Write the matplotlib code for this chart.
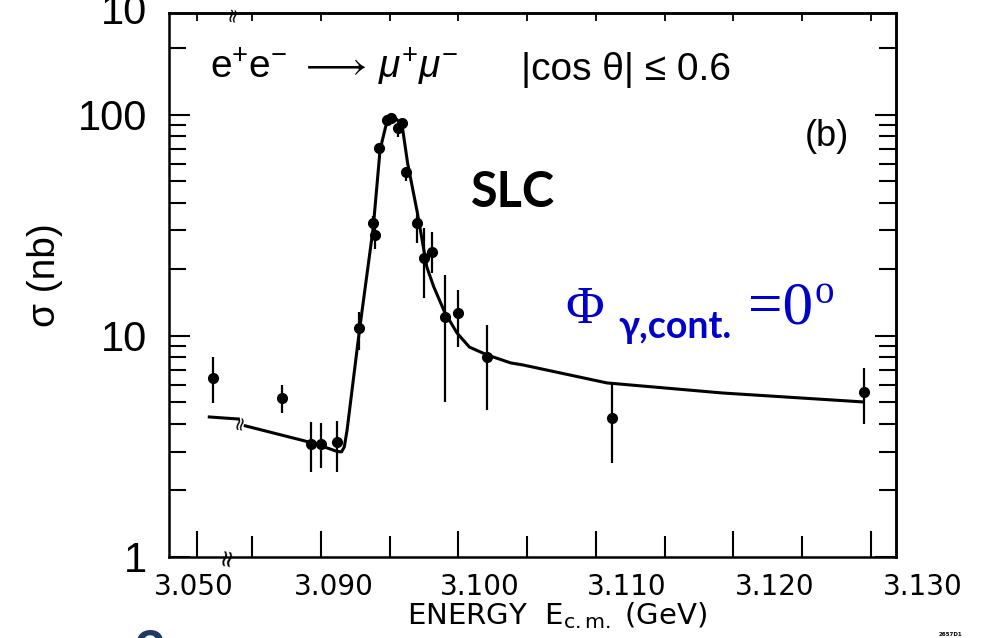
import matplotlib
matplotlib.use("Agg")
import matplotlib.pyplot as plt
from matplotlib import font_manager
from matplotlib.ticker import NullFormatter

installed = {f.name for f in font_manager.fontManager.ttflist}
NARROW = "Liberation Sans Narrow" if "Liberation Sans Narrow" in installed else "Liberation Sans"

plt.rcParams["mathtext.fontset"] = "custom"
plt.rcParams["mathtext.rm"] = NARROW
plt.rcParams["mathtext.it"] = NARROW + ":italic"
plt.rcParams["mathtext.bf"] = NARROW + ":bold"
plt.rcParams["mathtext.fallback"] = "stixsans"

# measured cross sections (GeV, nb)
energy = [3.0512, 3.0872, 3.0893, 3.0900, 3.0912, 3.0928, 3.0938, 3.0939,
          3.0942, 3.0948, 3.0951, 3.0956, 3.0959, 3.0962, 3.0970, 3.0975,
          3.0981, 3.0990, 3.1000, 3.1021, 3.1112, 3.1295]
sigma = [6.45, 5.24, 3.24, 3.24, 3.31, 10.9, 32.5, 28.7,
         70.9, 94.9, 96.9, 87.3, 92.0, 55.2, 32.5, 22.5,
         24.0, 12.2, 12.7, 8.0, 4.25, 5.58]
err_lo = [1.5, 0.74, 0.82, 0.71, 0.89, 2.26, 2.5, 4.0,
          4.0, 5.0, 5.0, 8.0, 5.0, 5.0, 6.2, 7.6,
          4.7, 7.2, 3.8, 3.4, 1.6, 1.6]
err_hi = [1.6, 0.76, 0.84, 0.80, 0.81, 1.9, 2.5, 2.0,
          4.0, 5.0, 5.0, 5.0, 5.0, 3.0, 2.8, 8.3,
          5.5, 6.7, 3.4, 3.2, 1.9, 1.6]

# fitted curve: short piece left of the axis break, then the main piece
fit_lo_e = [3.0509, 3.0530]
fit_lo_s = [4.30, 4.21]
fit_e = [3.0845, 3.0894, 3.0912, 3.0915, 3.0917, 3.0919, 3.0928, 3.0938,
         3.0943, 3.0947, 3.0950, 3.0954, 3.0959, 3.0963, 3.0970, 3.0977,
         3.0982, 3.0990, 3.0999, 3.1008, 3.1021, 3.1038, 3.1047, 3.1108,
         3.1192, 3.1294]
fit_s = [3.92, 3.28, 3.00, 2.99, 3.15, 3.75, 10.6, 30.8,
         69.5, 88.2, 98.0, 96.9, 90.0, 60.6, 36.4, 20.5,
         16.7, 12.8, 10.3, 8.9, 8.2, 7.55, 7.39, 6.13,
         5.52, 5.03]

x_major = [3.050, 3.090, 3.100, 3.110, 3.120, 3.130]
x_minor = [3.085, 3.095, 3.105, 3.115, 3.125]
x_labels = ["3.050", "3.090", "3.100", "3.110", "3.120", "3.130"]
y_major = [1, 10, 100]
y_labels = ["1", "10", "100"]
y_minor = [2, 3, 4, 5, 6, 7, 8, 9, 20, 30, 40, 50, 60, 70, 80, 90, 200]

BREAK = 3.07     # energies below this sit left of the axis break
SHIFT = 0.03098


def xb(e):
    return [v + SHIFT if v < BREAK else v for v in e]


W, H = 989, 638
fig = plt.figure(figsize=(W / 100, H / 100), dpi=100)
ax = fig.add_axes([169 / W, 1 - 557 / H, 727 / W, 544 / H])

ax.plot(xb(fit_lo_e), fit_lo_s, color="k", lw=2.2)
ax.plot(xb(fit_e), fit_s, color="k", lw=2.2)
ax.errorbar(xb(energy), sigma, yerr=[err_lo, err_hi], fmt="o", color="k",
            ms=7, elinewidth=1.6, capsize=0)

ax.set_yscale("log")
ax.set_xlim(3.07895, 3.13182)
ax.set_ylim(1, 289)

for s in ax.spines.values():
    s.set_linewidth(1.8)

ax.set_xticks(xb(x_major))
ax.set_xticks(x_minor, minor=True)
ax.tick_params(axis="x", which="major", direction="in", length=19, width=1.5,
               labelbottom=False)
ax.tick_params(axis="x", which="minor", direction="in", length=15, width=1.5)

ax.set_yticks(y_major, y_labels)
ax.set_yticks(y_minor, minor=True)
ax.yaxis.set_minor_formatter(NullFormatter())
ax.tick_params(axis="y", which="major", direction="in", length=15, width=1.5,
               pad=16, labelsize=30, labelfontfamily=NARROW)
ax.tick_params(axis="y", which="minor", direction="in", length=12, width=1.5)

top = ax.secondary_xaxis("top")
top.set_xticks(xb(x_major))
top.set_xticks(x_minor, minor=True)
top.tick_params(which="both", direction="in", length=6, width=1.3, labeltop=False)
top.spines["top"].set_linewidth(1.8)

right = ax.secondary_yaxis("right")
right.set_yticks(y_major)
right.set_yticks(y_minor, minor=True)
right.yaxis.set_minor_formatter(NullFormatter())
right.tick_params(which="major", direction="in", length=15, width=1.5, labelright=False)
right.tick_params(which="minor", direction="in", length=12, width=1.5)
right.spines["right"].set_linewidth(1.8)

# axis-break squiggles
ax.text(3.0832, 1.0, "\u2248", rotation=80, fontsize=17, ha="center", va="center",
        clip_on=False)
ax.text(3.0836, 289, "\u2248", rotation=80, fontsize=14, ha="center", va="center",
        clip_on=False)
ax.text(3.0841, 4.1, "\u2248", rotation=80, fontsize=14, ha="center", va="center")

# x tick labels (printed a little off the tick marks, as in the scan)
label_px = [194, 334, 480, 627, 775, 923]
for lab, px in zip(x_labels, label_px):
    fig.text(px / W, 1 - 595 / H, lab, ha="center", va="baseline", fontsize=20)

fig.text(557 / W, 1 - 624 / H, r"ENERGY  E$_{\mathregular{c.m.}}$ (GeV)",
         ha="center", va="baseline", fontsize=21)
fig.text(45 / W, 1 - 275 / H, "\u03c3 (nb)", rotation=90, ha="center", va="center",
         fontsize=28, family=NARROW)
fig.text(147 / W, 1 - 24 / H, "10", ha="right", va="baseline", fontsize=30, family=NARROW)

fig.text(210 / W, 1 - 78 / H, r"e$^{+}$e$^{-}$ $\longrightarrow$$\,\mu^{+}\mu^{-}$",
         ha="left", va="baseline", fontsize=28, family=NARROW)
fig.text(521 / W, 1 - 80 / H, "|cos \u03b8| \u2264 0.6", ha="left", va="baseline",
         fontsize=28, family=NARROW)
fig.text(827 / W, 1 - 146 / H, "(b)", ha="center", va="baseline", fontsize=26, family=NARROW)

fig.text(513 / W, 1 - 207 / H, "SLC", ha="center", va="baseline", fontsize=35,
         family="Lato", fontweight="bold")

blue = "#0000CC"
fig.text(585 / W, 1 - 323 / H, "\u03a6", ha="center", va="baseline", fontsize=38,
         family="Liberation Serif", color=blue)
fig.text(618 / W, 1 - 338 / H, "\u03b3,cont.", ha="left", va="baseline", fontsize=27,
         family="Lato", fontweight="bold", color=blue)
fig.text(748 / W, 1 - 323 / H, "=0", ha="left", va="baseline", fontsize=44,
         family="Liberation Serif", color=blue)
fig.text(815 / W, 1 - 303 / H, "o", ha="left", va="baseline", fontsize=28,
         family="Liberation Serif", color=blue)

fig.text(150 / W, 1 - 670 / H, "2", ha="center", va="baseline", fontsize=40,
         family="Lato", fontweight="bold", color="#1F3864")
fig.text(950 / W, 1 - 636 / H, "2657D1", ha="center", va="baseline", fontsize=4,
         fontweight="bold")

fig.savefig("out.png", dpi=100)
